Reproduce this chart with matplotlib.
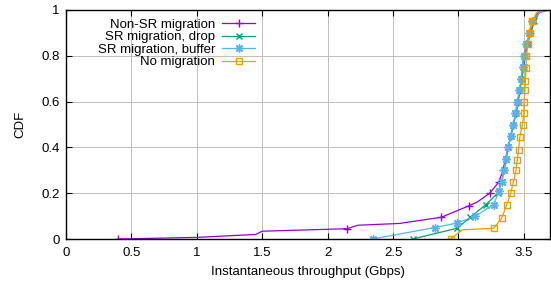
import matplotlib
matplotlib.use("Agg")
import matplotlib.pyplot as plt

plt.rcParams['font.family'] = ['Liberation Sans', 'DejaVu Sans']

# data (throughput in Gbps, CDF)
nonsr_x = [0.40, 1.00, 1.45, 1.50, 2.15, 2.23, 2.55, 2.87, 3.08, 3.14, 3.24, 3.31, 3.34, 3.36,
           3.38, 3.40, 3.42, 3.44, 3.455, 3.47, 3.48, 3.49, 3.50, 3.52, 3.55, 3.60, 3.68]
nonsr_y = [0.0, 0.007, 0.02, 0.034, 0.045, 0.06, 0.068, 0.095, 0.145, 0.16, 0.20, 0.25, 0.30, 0.35,
           0.40, 0.45, 0.50, 0.55, 0.60, 0.65, 0.70, 0.75, 0.80, 0.85, 0.90, 0.985, 1.0]
nonsr_mk = [0, 4, 7, 8, 10, 11, 12, 13, 14, 15, 16, 17, 18, 19, 20, 21, 22, 23, 24]

drop_x = [2.65, 2.99, 3.09, 3.21, 3.30, 3.33, 3.35, 3.365, 3.38, 3.40, 3.42, 3.44, 3.455, 3.47,
          3.485, 3.50, 3.51, 3.53, 3.55, 3.58, 3.63]
drop_y = [0.0, 0.047, 0.095, 0.15, 0.20, 0.25, 0.30, 0.35, 0.40, 0.45, 0.50, 0.55, 0.60, 0.65,
          0.70, 0.75, 0.80, 0.85, 0.90, 0.95, 1.0]
drop_mk = list(range(0, 20))

buf_x = [2.35, 2.40, 2.82, 2.99, 3.13, 3.27, 3.31, 3.33, 3.35, 3.36, 3.38, 3.40, 3.42, 3.435,
         3.45, 3.465, 3.48, 3.49, 3.50, 3.52, 3.54, 3.56, 3.62, 3.66]
buf_y = [0.0, 0.006, 0.05, 0.07, 0.10, 0.15, 0.21, 0.25, 0.30, 0.35, 0.40, 0.45, 0.50, 0.55,
         0.60, 0.65, 0.70, 0.75, 0.80, 0.85, 0.90, 0.95, 0.99, 1.0]
buf_mk = [0] + list(range(2, 22))

nomig_x = [2.94, 3.03, 3.27, 3.33, 3.37, 3.40, 3.42, 3.44, 3.45, 3.46, 3.47, 3.49, 3.50, 3.503,
           3.508, 3.512, 3.516, 3.52, 3.53, 3.545, 3.56, 3.60, 3.70]
nomig_y = [0.0, 0.04, 0.047, 0.09, 0.15, 0.20, 0.25, 0.30, 0.345, 0.39, 0.447, 0.50, 0.55, 0.60,
           0.65, 0.69, 0.745, 0.80, 0.85, 0.90, 0.95, 0.99, 1.0]
nomig_mk = [0] + list(range(2, 21))

xticks = [0, 0.5, 1, 1.5, 2, 2.5, 3, 3.5]
yticks = [0, 0.2, 0.4, 0.6, 0.8, 1]

fs = 9.5

fig = plt.figure(figsize=(5.51, 2.84), dpi=100)
ax = fig.add_axes([66 / 551, 45 / 284, 484 / 551, 229 / 284])

ax.plot(nonsr_x, nonsr_y, color='#9400d3', lw=0.9, marker='+', ms=6, mew=1.0,
        markevery=nonsr_mk, label='Non-SR migration')
ax.plot(drop_x, drop_y, color='#009e73', lw=0.9, marker='x', ms=5, mew=1.0,
        markevery=drop_mk, label='SR migration, drop')
ax.plot(buf_x, buf_y, color='#56b4e9', lw=0.9, marker=(8, 2, 0), ms=6, mew=1.0,
        markevery=buf_mk, label='SR migration, buffer')
ax.plot(nomig_x, nomig_y, color='#e69f00', lw=0.9, marker='s', ms=5, mew=1.0, mfc='none',
        markevery=nomig_mk, label='No migration')

ax.set_xlim(0, 3.7)
ax.set_ylim(0, 1)
ax.set_xticks(xticks)
ax.set_yticks(yticks)
ax.set_xticklabels(['%g' % t for t in xticks])
ax.set_yticklabels(['%g' % t for t in yticks])
ax.tick_params(direction='in', length=4, width=0.8, top=True, right=True, labelsize=fs)
ax.tick_params(axis='x', pad=5.5)
ax.tick_params(axis='y', pad=4.5)
ax.grid(True, color='#bdbdbd', lw=0.7)
for s in ax.spines.values():
    s.set_linewidth(1.0)

ax.set_xlabel('Instantaneous throughput (Gbps)', fontsize=fs, labelpad=5)
ax.set_ylabel('CDF', fontsize=fs, labelpad=11)

ax.legend(loc='upper right', bbox_to_anchor=(189 / 484, 0.962), frameon=False, markerfirst=False,
          fontsize=fs, handlelength=2.5, handletextpad=0.53, labelspacing=0.02, borderpad=0,
          borderaxespad=0)

fig.savefig('out.png', dpi=100)
